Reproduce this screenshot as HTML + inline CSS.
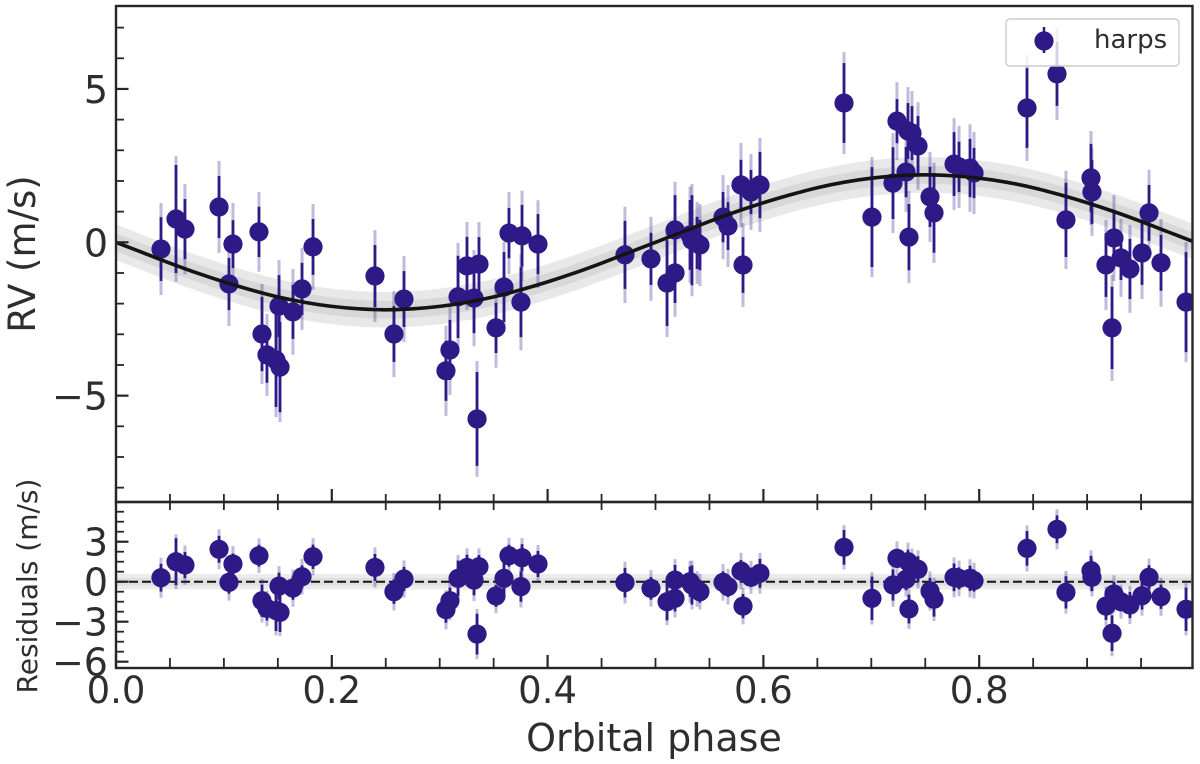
<!DOCTYPE html>
<html lang="en">
<head>
<meta charset="utf-8">
<title>RV phase-folded chart</title>
<style>
html,body{margin:0;padding:0;background:#fff;}
svg{display:block;font-family:"DejaVu Sans","Liberation Sans",sans-serif;}
</style>
</head>
<body>
<svg id="chart" xmlns="http://www.w3.org/2000/svg" width="1200" height="764" viewBox="0 0 1200 764">
  <defs>
    <clipPath id="clip-main"><rect x="116" y="6" width="1076.5" height="496"></rect></clipPath>
    <clipPath id="clip-res"><rect x="116" y="502" width="1076.5" height="166"></rect></clipPath>
  </defs>
  <rect x="0" y="0" width="1200" height="764" fill="#fff"></rect>
  <g id="main-panel"></g>
  <g id="res-panel"></g>
  <g id="axes"></g>
  <g id="labels">
    <text transform="translate(35,254) rotate(-90)" text-anchor="middle" font-size="37" fill="#2e2e2e">RV (m/s)</text>
    <text transform="translate(37,586) rotate(-90)" text-anchor="middle" font-size="28" fill="#2e2e2e">Residuals (m/s)</text>
    <text x="654" y="751" text-anchor="middle" font-size="38" fill="#2e2e2e">Orbital phase</text>
  </g>
  <g id="legend">
    <rect x="1006" y="19" width="173" height="47" rx="4" fill="#fff" fill-opacity="0.8" stroke="#cccccc" stroke-width="1.4"></rect>
    <line x1="1044" y1="27" x2="1044" y2="53" stroke="#2e1a87" stroke-width="2.5"></line>
    <circle cx="1044" cy="41" r="9.6" fill="#2e1a87"></circle>
    <text x="1094" y="48" font-size="26" fill="#2e2e2e">harps</text>
  </g>
</svg>
<script>
const phase = [.0417,.0556,.0639,.0955,.1084,.1047,.1325,.1353,.1399,.1483,.152,.1511,.164,.1724,.1826,.24,.2576,.2669,.3058,.3095,.317,.3253,.3364,.3318,.3346,.3522,.3596,.3642,.3763,.3753,.3911,.4717,.4958,.5107,.5181,.5181,.532,.5338,.5385,.5412,.5626,.5672,.5792,.5811,.5885,.5968,.6747,.7006,.7201,.7238,.7322,.734,.7349,.7377,.7433,.7544,.7581,.7767,.7813,.7915,.7952,.8443,.8721,.8804,.9036,.9045,.9175,.9231,.9249,.9314,.9397,.9509,.9574,.9685,.9917];
const rv = [-.22,.76,.43,1.15,-.06,-1.36,.34,-2.99,-3.67,-3.84,-4.07,-2.08,-2.27,-1.52,-.15,-1.10,-2.99,-1.85,-4.19,-3.51,-1.78,-.77,-.71,-1.82,-5.76,-2.79,-1.46,.30,.21,-1.95,-.06,-.41,-.54,-1.33,-1.0,.40,.24,.07,-.02,-.09,.82,.53,1.87,-.74,1.64,1.87,4.54,.82,1.93,3.95,2.29,3.63,.17,3.56,3.14,1.48,.96,2.55,2.46,2.42,2.26,4.38,5.49,.73,2.10,1.64,-.74,-2.79,.14,-.51,-.87,-.35,.96,-.67,-1.95];
const residual = [.30,1.50,1.25,2.43,1.33,-.05,1.95,-1.43,-2.0,-2.17,-2.3,-.33,-.48,.37,1.87,1.07,-.75,.2,-2.1,-1.43,.25,1.07,1.12,.12,-3.93,-1.07,.25,1.95,1.8,-.37,1.33,-.07,-.5,-1.5,-1.25,.12,0,-.25,-.55,-.75,-.05,-.37,.8,-1.83,.33,.63,2.58,-1.25,-.25,1.75,.18,1.5,-2.05,1.12,.93,-.7,-1.32,.33,.25,.25,.08,2.5,3.93,-.8,.83,.33,-1.83,-3.87,-.92,-1.5,-1.75,-1.05,.33,-1.13,-2.07];
const errInner = [1.04,1.76,.98,1.01,.78,.85,.82,1.21,.91,1.53,1.47,1.01,.88,.85,.91,1.01,.91,.91,.98,.98,1.34,.95,.88,1.14,1.53,.82,1.14,.82,1.01,1.14,.98,1.11,.85,1.40,.98,1.14,1.14,1.47,.85,.82,.82,.78,.82,.91,.72,1.08,1.30,1.63,1.17,.72,.82,.91,1.08,.88,.98,.98,1.30,1.04,.82,.95,.82,1.30,1.04,1.21,1.11,1.04,1.04,1.34,.91,.72,.98,1.04,.91,.91,1.63];
const errOuter = [1.50,2.05,1.47,1.50,1.34,1.37,1.30,1.63,1.34,1.86,1.79,1.50,1.40,1.34,1.40,1.50,1.40,1.40,1.47,1.47,1.76,1.43,1.37,1.57,1.89,1.30,1.47,1.34,1.47,1.57,1.43,1.57,1.37,1.76,1.43,1.57,1.57,1.83,1.34,1.34,1.37,1.34,1.37,1.37,1.24,1.53,1.66,1.96,1.63,1.27,1.30,1.43,1.50,1.37,1.43,1.47,1.63,1.50,1.34,1.43,1.34,1.73,1.50,1.60,1.53,1.43,1.47,1.73,1.40,1.27,1.43,1.50,1.40,1.43,1.96];

const modelPhase = [0,.025,.05,.075,.1,.125,.15,.175,.2,.225,.25,.275,.3,.325,.35,.375,.4,.425,.45,.475,.5,.525,.55,.575,.6,.625,.65,.675,.7,.725,.75,.775,.8,.825,.85,.875,.9,.925,.95,.975,1];
const modelRv = [0,-.34,-.68,-1.0,-1.29,-1.55,-1.78,-1.96,-2.09,-2.17,-2.2,-2.17,-2.09,-1.96,-1.78,-1.55,-1.29,-1.0,-.68,-.34,0,.34,.68,1.0,1.29,1.55,1.78,1.96,2.09,2.17,2.2,2.17,2.09,1.96,1.78,1.55,1.29,1.0,.68,.34,0];
const bandOuter = .58;
const bandInner = .29;

const xMajorTicks = [0,.2,.4,.6,.8];
const xTickLabels = ['0.0','0.2','0.4','0.6','0.8'];
const xMinorTicks = [.05,.1,.15,.25,.3,.35,.45,.5,.55,.65,.7,.75,.85,.9,.95];
const yMajorTicks = [-5,0,5];
const yTickLabels = ['\u22125','0','5'];
const yMinorTicks = [-8,-7,-6,-4,-3,-2,-1,1,2,3,4,6,7];
const resMajorTicks = [-6,-3,0,3];
const resTickLabels = ['\u22126','\u22123','0','3'];
const resMinorTicks = [-5.25,-4.5,-3.75,-2.25,-1.5,-.75,.75,1.5,2.25,3.75,4.5,5.25];

const sx = p => 116 + 1079 * p;
const sy = v => 242.3 - 30.67 * v;
const sr = v => 581.7 - 13.33 * v;
const NS = 'http://www.w3.org/2000/svg';
const COLOR = '#2e1a87';
const INK = '#262626';

function mk(parent, tag, attrs) {
  const el = document.createElementNS(NS, tag);
  for (const k in attrs) el.setAttribute(k, attrs[k]);
  parent.appendChild(el);
  return el;
}
function smooth(pts, start) {
  let d = (start || 'M') + pts[0][0].toFixed(2) + ' ' + pts[0][1].toFixed(2);
  for (let i = 0; i < pts.length - 1; i++) {
    const a = pts[Math.max(i - 1, 0)], b = pts[i], c = pts[i + 1], e = pts[Math.min(i + 2, pts.length - 1)];
    d += ' C' + (b[0] + (c[0] - a[0]) / 6).toFixed(2) + ' ' + (b[1] + (c[1] - a[1]) / 6).toFixed(2) + ' ' +
      (c[0] - (e[0] - b[0]) / 6).toFixed(2) + ' ' + (c[1] - (e[1] - b[1]) / 6).toFixed(2) + ' ' +
      c[0].toFixed(2) + ' ' + c[1].toFixed(2);
  }
  return d;
}
function bandPath(center, half, scale) {
  const up = center.map((v, i) => [sx(modelPhase[i]), scale(v + half)]);
  const lo = center.map((v, i) => [sx(modelPhase[i]), scale(v - half)]).reverse();
  return smooth(up) + ' ' + smooth(lo, 'L') + ' Z';
}
function drawPoints(group, values, scale) {
  phase.forEach((p, i) => {
    const x = sx(p);
    const light = mk(group, 'line', {x1: x, x2: x, y1: scale(values[i] + errOuter[i]), y2: scale(values[i] - errOuter[i]), stroke: COLOR, 'stroke-opacity': .3, 'stroke-width': 3});
    
    
    const dark = mk(group, 'line', {x1: x, x2: x, y1: scale(values[i] + errInner[i]), y2: scale(values[i] - errInner[i]), stroke: COLOR, 'stroke-width': 2.8});
    
    
  });
  phase.forEach((p, i) => {
    const dot = mk(group, 'circle', {cx: sx(p), cy: scale(values[i]), r: 9.6, fill: COLOR});
    
    
  });
}

/* main panel */
const mainG = mk(document.getElementById('main-panel'), 'g', {'clip-path': 'url(#clip-main)'});
const bandA = mk(mainG, 'path', {d: bandPath(modelRv, bandOuter, sy), fill: '#e8e8e8'});


const bandB = mk(mainG, 'path', {d: bandPath(modelRv, bandInner, sy), fill: '#d8d8d8'});


drawPoints(mainG, rv, sy);
const modelLine = mk(mainG, 'path', {d: smooth(modelRv.map((v, i) => [sx(modelPhase[i]), sy(v)])), fill: 'none', stroke: '#141414', 'stroke-width': 3.6});



/* residual panel */
const resG = mk(document.getElementById('res-panel'), 'g', {'clip-path': 'url(#clip-res)'});
const zeros = modelPhase.map(() => 0);
const resA = mk(resG, 'path', {d: bandPath(zeros, bandOuter, sr), fill: '#ececec'});


const resB = mk(resG, 'path', {d: bandPath(zeros, bandInner, sr), fill: '#e0e0e0'});


const zeroLine = mk(resG, 'line', {x1: 116, x2: 1193, y1: sr(0), y2: sr(0), stroke: '#141414', 'stroke-width': 2, 'stroke-dasharray': '9 4'});


drawPoints(resG, residual, sr);

/* axes */
const axes = document.getElementById('axes');
function tick(x1, y1, x2, y2, name, w) {
  const t = mk(axes, 'line', {x1: x1, y1: y1, x2: x2, y2: y2, stroke: INK, 'stroke-width': w});
  
  
}
xMajorTicks.forEach((p, i) => {
  tick(sx(p), 502, sx(p), 489, 'rv-x-major-tick', 2.2);
  tick(sx(p), 668, sx(p), 655, 'residual-x-major-tick', 2.2);
  const t = mk(axes, 'text', {x: sx(p), y: 703, 'text-anchor': 'middle', 'font-size': 37, fill: '#2e2e2e'});
  
  
  t.textContent = xTickLabels[i];
});
xMinorTicks.forEach(p => {
  tick(sx(p), 502, sx(p), 494, 'rv-x-minor-tick', 1.8);
  tick(sx(p), 502, sx(p), 510, 'residual-x-minor-top-tick', 1.8);
  tick(sx(p), 668, sx(p), 658, 'residual-x-minor-tick', 1.8);
});
yMajorTicks.forEach((v, i) => {
  tick(116, sy(v), 128.5, sy(v), 'rv-y-major-tick', 2.2);
  const t = mk(axes, 'text', {x: 108, y: sy(v) + 14, 'text-anchor': 'end', 'font-size': 38, fill: '#2e2e2e'});
  
  
  t.textContent = yTickLabels[i];
});
yMinorTicks.forEach(v => tick(116, sy(v), 124, sy(v), 'rv-y-minor-tick', 1.8));
resMajorTicks.forEach((v, i) => {
  tick(116, sr(v), 128.5, sr(v), 'residual-y-major-tick', 2.2);
  const t = mk(axes, 'text', {x: 108, y: sr(v) + 14, 'text-anchor': 'end', 'font-size': 38, fill: '#2e2e2e'});
  
  
  t.textContent = resTickLabels[i];
});
resMinorTicks.forEach(v => tick(116, sr(v), 124, sr(v), 'residual-y-minor-tick', 1.8));

const frameMain = mk(axes, 'rect', {x: 116, y: 6, width: 1076.5, height: 496, fill: 'none', stroke: INK, 'stroke-width': 2.4});


const frameRes = mk(axes, 'rect', {x: 116, y: 502, width: 1076.5, height: 166, fill: 'none', stroke: INK, 'stroke-width': 2.4});


</script>
</body>
</html>
